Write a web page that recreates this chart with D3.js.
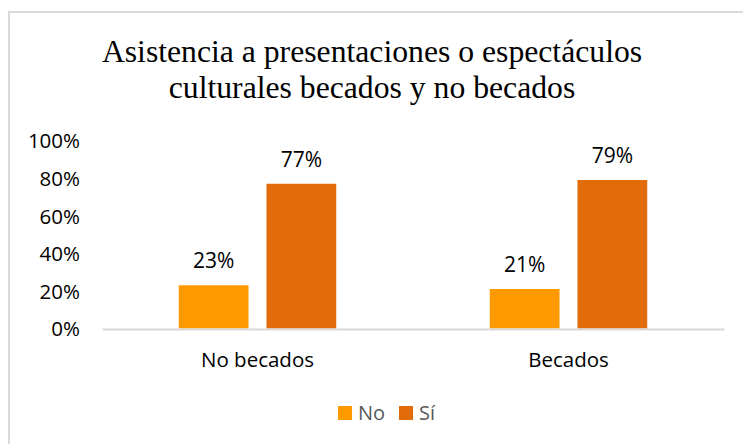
<!DOCTYPE html>
<html><head><meta charset="utf-8">
<script src="https://cdn.jsdelivr.net/npm/d3@7"></script>
<style>body{margin:0;background:#fff}svg{display:block}</style>
</head><body>
<svg id="c" width="743" height="444"></svg>
<script>
const titleLines = ["Asistencia a presentaciones o espectáculos", "culturales becados y no becados"];
const categories = ["No becados", "Becados"];
const seriesNames = ["No", "Sí"];
const seriesNo = [0.23, 0.21];
const seriesSi = [0.77, 0.79];
const yTicks = [0, 0.2, 0.4, 0.6, 0.8, 1.0];
const colors = ["#FF9900", "#E36C0A"];

const svg = d3.select("#c");
svg.append("rect").attr("x", 9).attr("y", 12).attr("width", 760).attr("height", 460)
  .attr("fill", "#fff").attr("stroke", "#D9D9D9").attr("stroke-width", 2);

svg.append("g").selectAll("text").data(titleLines).join("text")
  .attr("x", 372).attr("y", (d, i) => 62 + i * 36)
  .attr("text-anchor", "middle").attr("font-family", "Liberation Serif")
  .attr("font-size", 31.7).attr("fill", "#000").text(d => d);

const x0 = d3.scaleBand().domain(categories).range([102, 724]);
const x1 = d3.scaleBand().domain(seriesNames).range([0, x0.bandwidth()]).paddingInner(0.2045).paddingOuter(0.875);
const y = d3.scaleLinear().domain([0, 1]).range([328.5, 140.5]);

const yAxis = d3.axisLeft(y).tickValues(yTicks).tickFormat(d3.format(".0%")).tickSize(0).tickPadding(0);
const ga = svg.append("g").attr("transform", "translate(80,0)").call(yAxis);
ga.select(".domain").remove();
ga.selectAll("text").attr("font-family", "Open Sans").attr("font-size", 20.5).attr("fill", "#000").attr("dy", "0.36em");

const data = categories.map((c, i) => ({cat: c, vals: [seriesNo[i], seriesSi[i]]}));
const groups = svg.append("g").selectAll("g").data(data).join("g")
  .attr("transform", d => `translate(${x0(d.cat)},0)`);
groups.selectAll("rect").data(d => d.vals.map((v, j) => ({s: seriesNames[j], v, j}))).join("rect")
  .attr("x", d => x1(d.s)).attr("width", x1.bandwidth())
  .attr("y", d => y(d.v)).attr("height", d => y(0) - y(d.v))
  .attr("fill", d => colors[d.j]);
groups.selectAll("text").data(d => d.vals.map((v, j) => ({s: seriesNames[j], v, j}))).join("text")
  .attr("x", d => x1(d.s) + x1.bandwidth() / 2).attr("y", d => y(d.v) - 17)
  .attr("text-anchor", "middle").attr("font-family", "Open Sans").attr("font-size", 21)
  .attr("fill", "#000").text(d => d3.format(".0%")(d.v));

const xAxis = d3.axisBottom(x0).tickSize(0).tickPadding(0);
const gx = svg.append("g").attr("transform", "translate(0,329)").call(xAxis);
gx.select(".domain").attr("stroke", "#D9D9D9").attr("stroke-width", 2);
gx.selectAll("text").attr("font-family", "Open Sans").attr("font-size", 20.5).attr("fill", "#000").attr("y", 31).attr("dy", "0.36em");

const legend = svg.append("g");
const lx = [338, 399];
seriesNames.forEach((s, i) => {
  legend.append("rect").attr("x", lx[i]).attr("y", 406).attr("width", 14).attr("height", 14).attr("fill", colors[i]);
  legend.append("text").attr("x", lx[i] + 20).attr("y", 413).attr("dy", "0.36em")
    .attr("font-family", "Open Sans").attr("font-size", 20).attr("fill", "#595959").text(s);
});
</script>
</body></html>
